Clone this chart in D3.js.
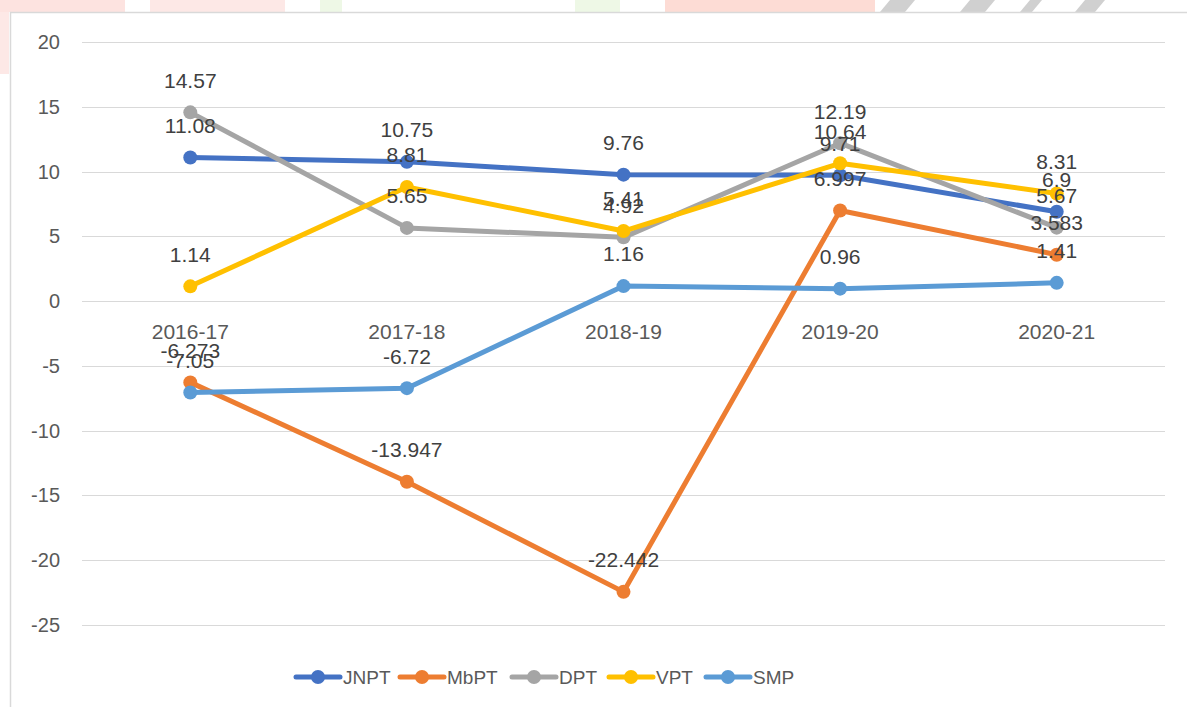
<!DOCTYPE html>
<html><head><meta charset="utf-8">
<script src="https://cdn.jsdelivr.net/npm/d3@7"></script>
<style>body{margin:0;background:#fff;} svg{display:block;font-family:"Liberation Sans",Arial,sans-serif;}</style>
</head><body>
<svg id="c" width="1187" height="707"></svg>
<script>
const categories = ["2016-17","2017-18","2018-19","2019-20","2020-21"];
const seriesNames = ["JNPT","MbPT","DPT","VPT","SMP"];
const JNPT = [11.08, 10.75, 9.76, 9.71, 6.9];
const MbPT = [-6.273, -13.947, -22.442, 6.997, 3.583];
const DPT = [14.57, 5.65, 4.92, 12.19, 5.67];
const VPT = [1.14, 8.81, 5.41, 10.64, 8.31];
const SMP = [-7.05, -6.72, 1.16, 0.96, 1.41];
const yTicks = [20,15,10,5,0,-5,-10,-15,-20,-25];
const colors = ["#4472C4","#ED7D31","#A5A5A5","#FFC000","#5B9BD5"];
const seriesValues = [JNPT, MbPT, DPT, VPT, SMP];

const svg = d3.select("#c");
// faint watermark strip at the top
const wm = [[0,125,"#fde3e0"],[150,135,"#fde8e6"],[320,22,"#eef8e6"],[575,45,"#eef8e6"],[665,210,"#fddcd5"]];
wm.forEach(w=>svg.append("rect").attr("x",w[0]).attr("y",0).attr("width",w[1]).attr("height",12).attr("fill",w[2]));
svg.append("rect").attr("x",0).attr("y",12).attr("width",9).attr("height",62).attr("fill","#fde8e6");
[[880,905],[960,985],[1020,1032],[1075,1095]].forEach(s=>{
  svg.append("polygon").attr("points",`${s[0]},12 ${s[0]+10},0 ${s[1]+10},0 ${s[1]},12`).attr("fill","#d0d0d0");
});
// chart frame
svg.append("path").attr("d","M10.5,707 V12.5 H1187").attr("fill","none").attr("stroke","#d9d9d9").attr("stroke-width",1.5);

const x = d3.scaleBand().domain(categories).range([82,1165]);
const y = d3.scaleLinear().domain([-25,20]).range([625,42]);

// gridlines
svg.append("g").selectAll("line").data(yTicks).join("line")
  .attr("x1",82).attr("x2",1165).attr("y1",d=>Math.round(y(d))+0.5).attr("y2",d=>Math.round(y(d))+0.5)
  .attr("stroke","#d9d9d9").attr("stroke-width",1);

// y tick labels
svg.append("g").selectAll("text").data(yTicks).join("text")
  .attr("x",60).attr("y",d=>y(d)).attr("dy","0.35em").attr("text-anchor","end")
  .attr("font-size",20).attr("fill","#595959").text(d=>d);

// category labels
svg.append("g").selectAll("text").data(categories).join("text")
  .attr("x",d=>x(d)+x.bandwidth()/2).attr("y",y(0)+31).attr("dy","0.35em").attr("text-anchor","middle")
  .attr("font-size",21).attr("fill","#595959").text(d=>d);

const line = d3.line().x((d,i)=>x(categories[i])+x.bandwidth()/2).y(d=>y(d));
seriesValues.forEach((vals,si)=>{
  const g = svg.append("g");
  g.append("path").attr("d",line(vals)).attr("fill","none").attr("stroke",colors[si]).attr("stroke-width",5).attr("stroke-linejoin","round").attr("stroke-linecap","round");
  g.selectAll("circle").data(vals).join("circle")
    .attr("cx",(d,i)=>x(categories[i])+x.bandwidth()/2).attr("cy",d=>y(d)).attr("r",7).attr("fill",colors[si]);
});
// data labels
seriesValues.forEach((vals,si)=>{
  svg.append("g").selectAll("text").data(vals).join("text")
    .attr("x",(d,i)=>x(categories[i])+x.bandwidth()/2).attr("y",d=>y(d)-32).attr("dy","0.35em")
    .attr("text-anchor","middle").attr("font-size",21).attr("fill","#404040").text(d=>d);
});

// legend
const legX = [296,400,512,609,706];
const lg = svg.append("g");
seriesNames.forEach((n,i)=>{
  const lx = legX[i];
  lg.append("line").attr("x1",lx).attr("x2",lx+44).attr("y1",677).attr("y2",677).attr("stroke",colors[i]).attr("stroke-width",5).attr("stroke-linecap","round");
  lg.append("circle").attr("cx",lx+22).attr("cy",677).attr("r",7).attr("fill",colors[i]);
  lg.append("text").attr("x",lx+47).attr("y",677).attr("dy","0.35em").attr("font-size",19).attr("fill","#595959").text(n);
});
</script>
</body></html>
